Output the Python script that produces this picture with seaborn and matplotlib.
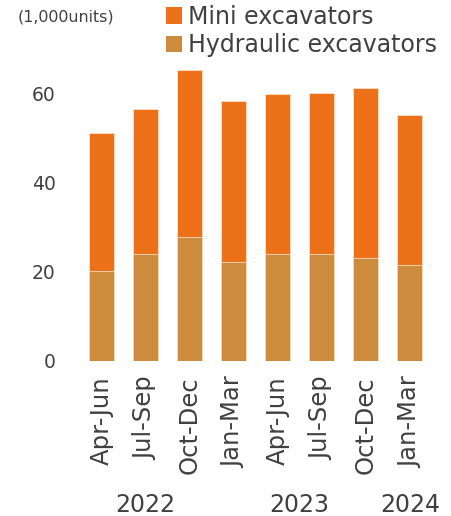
import matplotlib
matplotlib.use("Agg")
import matplotlib.pyplot as plt
import matplotlib.transforms as mtransforms
import seaborn as sns
import pandas as pd
from matplotlib.patches import Patch

quarters = ["Apr-Jun", "Jul-Sep", "Oct-Dec", "Jan-Mar", "Apr-Jun", "Jul-Sep", "Oct-Dec", "Jan-Mar"]
fiscal_key = ["22Q1", "22Q2", "22Q3", "22Q4", "23Q1", "23Q2", "23Q3", "23Q4"]
hydraulic = [20.2, 24.0, 27.8, 22.2, 24.0, 24.0, 23.1, 21.5]
total = [51.2, 56.6, 65.3, 58.4, 59.9, 60.2, 61.3, 55.3]
mini = [t - h for t, h in zip(total, hydraulic)]
years = ["2022", "2023", "2024"]
year_pos = [1, 4.5, 7]

c_mini = "#EC7118"
c_hyd = "#CD8B3E"
txt = "#404040"

df = pd.DataFrame({"key": fiscal_key, "hydraulic": hydraulic, "mini": mini,
                   "total": [h + m for h, m in zip(hydraulic, mini)]})

sns.set_style("white")
plt.rcParams["font.family"] = ["DejaVu Sans"]

fig = plt.figure(figsize=(4.52, 5.16), dpi=100)
ax = fig.add_axes([0.166, 0.3004, 0.799, 0.5696])

sns.barplot(data=df, x="key", y="total", color=c_mini, saturation=1, width=0.57,
            edgecolor="#FBE3CC", linewidth=0.6, ax=ax)
sns.barplot(data=df, x="key", y="hydraulic", color=c_hyd, saturation=1, width=0.57,
            edgecolor="#F3DCC0", linewidth=0.6, ax=ax)

ax.set_xlim(-0.6, 7.6)
ax.set_ylim(0, 66)
ax.set_yticks([0, 20, 40, 60])
ax.set_xticks(range(len(quarters)))
ax.set_xticklabels(quarters, rotation=90, fontsize=17.5, color=txt)
ax.tick_params(axis="y", labelsize=13.5, labelcolor=txt, length=0, pad=14)
ax.tick_params(axis="x", length=0, pad=11)
ax.set_xlabel("")
ax.set_ylabel("")
for s in ax.spines.values():
    s.set_visible(False)

tr = mtransforms.blended_transform_factory(ax.transData, fig.transFigure)
for y, p in zip(years, year_pos):
    ax.text(p, 1 - 505 / 516, y, transform=tr, ha="center", va="center",
            fontsize=17, color=txt)

fig.text(18 / 452, 1 - 17 / 516, "(1,000units)", fontsize=11.4, color=txt, ha="left", va="center")

handles = [Patch(facecolor=c_mini, edgecolor="none"), Patch(facecolor=c_hyd, edgecolor="none")]
fig.legend(handles, ["Mini excavators", "Hydraulic excavators"], loc="upper left",
           bbox_to_anchor=(161 / 452, 1 - 0 / 516), frameon=False, fontsize=17,
           handlelength=0.7, handleheight=0.7, handletextpad=0.25, labelspacing=0.2,
           labelcolor=txt, borderaxespad=0.0, borderpad=0.2)

fig.savefig("out.png", dpi=100)
